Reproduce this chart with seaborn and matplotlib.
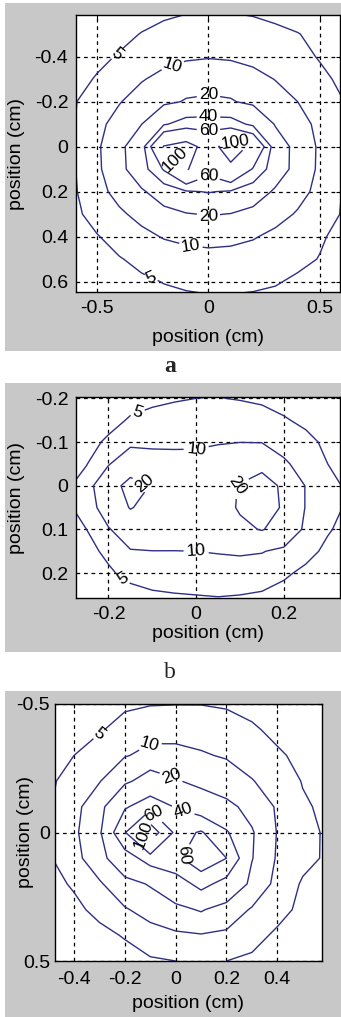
import matplotlib
matplotlib.use("Agg")
import matplotlib.pyplot as plt
from matplotlib.patches import Rectangle
from matplotlib.ticker import FuncFormatter
import numpy as np
import seaborn as sns

# ---- panel a: values on a 0.1 cm grid ----
a_x = [-0.6, -0.5, -0.4, -0.3, -0.2, -0.1, 0.0, 0.1, 0.2, 0.3, 0.4, 0.5, 0.6]
a_y = [-0.6, -0.5, -0.4, -0.3, -0.2, -0.1, 0.0, 0.1, 0.2, 0.3, 0.4, 0.5, 0.6, 0.7]
a_z = [
    [2.4, 2.9, 3.5, 4.0, 4.4, 4.8, 4.9, 4.9, 4.7, 4.3, 3.8, 3.2, 2.6],
    [3.0, 3.6, 4.3, 5.1, 5.9, 6.6, 6.9, 6.7, 6.1, 5.6, 5.1, 4.3, 3.5],
    [3.6, 4.4, 5.2, 6.5, 7.8, 9.0, 9.5, 9.1, 8.0, 6.8, 5.8, 4.8, 3.9],
    [4.2, 5.2, 7.4, 9.5, 12.0, 14.2, 15.3, 14.4, 12.3, 9.8, 7.7, 5.6, 4.5],
    [4.8, 6.8, 9.6, 13.0, 17.0, 21.0, 22.0, 21.0, 17.0, 13.0, 10.0, 7.2, 5.1],
    [4.9, 8.2, 12.5, 19.8, 38.0, 48.0, 49.0, 48.0, 36.0, 19.0, 12.5, 8.4, 5.2],
    [4.7, 8.8, 16.0, 31.0, 102.0, 115.0, 85.0, 118.0, 92.0, 28.0, 15.4, 8.8, 5.1],
    [4.8, 8.7, 15.0, 31.0, 62.0, 104.0, 68.0, 92.0, 58.0, 28.0, 15.0, 8.7, 5.0],
    [4.6, 8.0, 12.0, 18.0, 28.0, 38.0, 41.0, 38.0, 28.0, 18.0, 12.2, 8.2, 4.9],
    [4.3, 6.3, 9.0, 11.8, 15.5, 19.0, 21.0, 19.5, 16.0, 12.3, 9.4, 6.6, 4.8],
    [3.9, 4.8, 6.3, 8.4, 10.4, 11.4, 12.0, 11.6, 10.5, 8.5, 6.8, 5.3, 4.3],
    [3.4, 4.1, 4.8, 5.8, 6.8, 7.7, 8.0, 7.8, 7.1, 6.3, 5.6, 4.9, 3.9],
    [2.9, 3.4, 3.9, 4.5, 5.1, 5.4, 5.5, 5.5, 5.4, 5.2, 4.6, 3.8, 3.1],
    [2.4, 2.8, 3.2, 3.7, 4.1, 4.4, 4.6, 4.6, 4.5, 4.2, 3.8, 3.2, 2.7],
]
a_levels = [5, 10, 20, 40, 60, 100]

# ---- panel b: values on a 0.05 cm grid ----
b_x = [-0.3, -0.25, -0.2, -0.15, -0.1, -0.05, 0.0, 0.05, 0.1, 0.15, 0.2, 0.25, 0.3, 0.35]
b_y = [-0.25, -0.2, -0.15, -0.1, -0.05, 0.0, 0.05, 0.1, 0.15, 0.2, 0.25, 0.3]
b_z = [
    [2.0, 2.3, 2.7, 3.1, 3.4, 3.7, 3.9, 4.0, 3.8, 3.5, 3.1, 2.7, 2.3, 2.0],
    [2.4, 2.8, 3.3, 3.9, 4.3, 4.7, 5.0, 5.1, 4.8, 4.3, 3.8, 3.3, 2.8, 2.4],
    [2.7, 3.2, 4.0, 5.3, 6.0, 6.4, 6.6, 6.8, 6.9, 6.6, 5.3, 4.3, 3.4, 2.9],
    [3.2, 4.0, 5.5, 8.4, 8.6, 8.7, 8.8, 9.5, 9.9, 9.7, 8.0, 5.9, 4.3, 3.5],
    [3.8, 4.8, 9.5, 15.0, 13.0, 12.5, 12.5, 13.5, 15.5, 18.0, 10.8, 7.9, 5.0, 3.9],
    [4.0, 7.2, 16.0, 23.0, 19.5, 16.0, 15.0, 16.5, 20.5, 23.0, 18.8, 9.6, 6.3, 4.2],
    [4.2, 6.4, 14.0, 20.5, 17.0, 15.5, 15.0, 16.0, 21.0, 24.0, 19.0, 9.6, 6.4, 4.3],
    [4.0, 5.0, 9.5, 14.0, 14.5, 14.0, 13.5, 14.5, 18.0, 20.5, 16.0, 8.6, 5.3, 3.9],
    [3.5, 4.2, 5.6, 9.6, 9.9, 9.9, 10.0, 10.3, 10.6, 10.3, 8.6, 6.0, 4.3, 3.4],
    [3.0, 3.6, 4.6, 5.8, 6.8, 7.2, 7.5, 7.8, 7.8, 7.0, 5.5, 4.3, 3.5, 3.0],
    [2.6, 3.0, 3.6, 4.1, 4.5, 4.8, 5.0, 5.1, 5.0, 4.6, 4.0, 3.4, 2.9, 2.5],
    [2.2, 2.5, 2.9, 3.2, 3.5, 3.7, 3.8, 3.9, 3.8, 3.5, 3.1, 2.7, 2.4, 2.1],
]
b_levels = [5, 10, 20]

# ---- panel c: values on a 0.1 cm grid ----
c_x = [-0.5, -0.4, -0.3, -0.2, -0.1, 0.0, 0.1, 0.2, 0.3, 0.4, 0.5, 0.6]
c_y = [-0.5, -0.4, -0.3, -0.2, -0.1, 0.0, 0.1, 0.2, 0.3, 0.4, 0.5]
c_z = [
    [2.5, 3.0, 3.6, 4.3, 4.8, 4.9, 4.9, 4.6, 4.1, 3.5, 3.0, 2.6],
    [3.0, 3.7, 4.6, 6.6, 7.6, 7.7, 7.5, 6.6, 5.4, 4.3, 3.6, 3.0],
    [3.8, 5.0, 7.3, 9.5, 12.0, 11.9, 10.6, 9.4, 7.4, 5.4, 4.3, 3.5],
    [4.3, 6.6, 9.6, 17.5, 26.0, 21.0, 16.8, 13.5, 10.3, 7.4, 4.8, 3.8],
    [4.6, 7.7, 15.3, 38.0, 50.0, 39.0, 28.0, 23.0, 16.4, 9.0, 5.5, 4.2],
    [4.2, 8.4, 17.4, 58.0, 125.0, 52.0, 62.0, 42.0, 21.0, 9.6, 6.3, 4.4],
    [4.6, 7.4, 15.3, 31.0, 48.0, 55.0, 75.0, 60.0, 20.5, 9.0, 6.0, 4.5],
    [4.2, 5.3, 9.0, 15.9, 21.0, 30.0, 46.0, 33.0, 17.0, 7.5, 4.6, 3.8],
    [3.6, 4.4, 5.7, 9.3, 13.0, 17.0, 21.0, 15.0, 9.2, 6.0, 4.3, 3.4],
    [3.0, 3.6, 4.3, 5.2, 7.0, 8.6, 9.4, 8.6, 6.0, 4.5, 3.6, 3.0],
    [2.5, 2.9, 3.4, 4.0, 4.6, 5.0, 5.2, 5.0, 4.5, 3.8, 3.1, 2.6],
]
c_levels = [5, 10, 20, 40, 60, 100]

sns.set_theme(style="white")
plt.rcParams["font.family"] = ["Liberation Sans", "DejaVu Sans"]
plt.rcParams["axes.unicode_minus"] = False

W, H = 341, 1017
GRAY = "#c8c8c8"
LINE = "#2f2f85"

fig = plt.figure(figsize=(W / 100, H / 100), dpi=100)
fig.patch.set_facecolor("white")

# grey figure backgrounds behind each panel
for top, bottom in [(3, 351), (383, 652), (691, 1017)]:
    fig.patches.append(Rectangle((5 / W, 1 - bottom / H), (W - 5) / W, (bottom - top) / H,
                                 transform=fig.transFigure, facecolor=GRAY,
                                 edgecolor="none", zorder=-5))

tick_fmt = FuncFormatter(lambda v, p: "0" if abs(v) < 1e-9 else f"{v:g}")


def draw_panel(box, xs, ys, zs, levels, xlim, ylim, xticks, yticks, label_pos,
               xlab_px, ylab_px, xpad, ypad):
    left, top, right, bottom = box
    ax = fig.add_axes([left / W, 1 - bottom / H, (right - left) / W, (bottom - top) / H])
    ax.set_facecolor("white")
    X, Y = np.meshgrid(xs, ys)
    cs = ax.contour(X, Y, np.array(zs), levels=levels, colors=LINE, linewidths=1.0)
    ax.clabel(cs, inline=True, fontsize=12.5, fmt="%d", colors="black",
              manual=label_pos, inline_spacing=2)
    ax.set_xlim(*xlim)
    ax.set_ylim(*ylim)
    ax.set_xticks(xticks)
    ax.set_yticks(yticks)
    ax.xaxis.set_major_formatter(tick_fmt)
    ax.yaxis.set_major_formatter(tick_fmt)
    ax.grid(True, color="black", linestyle=(0, (3, 3)), linewidth=0.9)
    ax.set_axisbelow(True)
    ax.tick_params(direction="in", length=3, width=0.8, top=True, right=True,
                   labelsize=14, colors="black")
    ax.tick_params(axis="x", pad=xpad)
    ax.tick_params(axis="y", pad=ypad)
    for s in ax.spines.values():
        s.set_color("black")
        s.set_linewidth(1.0)
    ax.set_xlabel("position (cm)", fontsize=14, color="black")
    ax.set_ylabel("position (cm)", fontsize=14, color="black")
    ax.xaxis.label.set_va("center")
    ax.yaxis.label.set_va("center")
    ax.xaxis.set_label_coords(0.5, -(xlab_px - bottom) / (bottom - top))
    ax.yaxis.set_label_coords(-(left - ylab_px) / (right - left), 0.5)
    return ax


draw_panel((76, 15, 340, 292), a_x, a_y, a_z, a_levels,
           (-0.594, 0.59), (0.646, -0.585), [-0.5, 0, 0.5],
           [-0.4, -0.2, 0, 0.2, 0.4, 0.6],
           [(-0.41, -0.41), (-0.26, 0.59), (-0.16, -0.36), (-0.08, 0.45),
            (0.0, -0.23), (0.0, 0.31), (0.0, -0.13), (0.0, -0.07), (0.0, 0.13),
            (-0.14, 0.05), (0.11, 0.01)],
           337, 17, 6, 5.5)

draw_panel((76, 397, 340, 598), b_x, b_y, b_z, b_levels,
           (-0.274, 0.328), (0.257, -0.203), [-0.2, 0, 0.2],
           [-0.2, -0.1, 0, 0.1, 0.2],
           [(-0.13, -0.156), (-0.168, 0.216), (0.0, -0.085), (0.0, 0.15),
            (-0.12, 0.0), (0.095, 0.0)],
           633, 17, 6, 5.5)

draw_panel((55, 704, 322, 961), c_x, c_y, c_z, c_levels,
           (-0.475, 0.576), (0.5, -0.5), [-0.4, -0.2, 0, 0.2, 0.4],
           [-0.5, 0, 0.5],
           [(-0.3, -0.38), (-0.1, -0.34), (-0.02, -0.21), (0.03, -0.09),
            (-0.09, -0.07), (0.04, 0.09), (-0.12, 0.0)],
           1003, 25, 7.5, 3.6)

fig.text(170 / W, 1 - 367 / H, "a", ha="center", va="center", fontsize=17,
         fontweight="bold", family=["Liberation Serif", "DejaVu Serif"])
fig.text(170 / W, 1 - 673 / H, "b", ha="center", va="center", fontsize=17,
         family=["Liberation Serif", "DejaVu Serif"])

fig.savefig("out.png", dpi=100, facecolor=fig.get_facecolor())
